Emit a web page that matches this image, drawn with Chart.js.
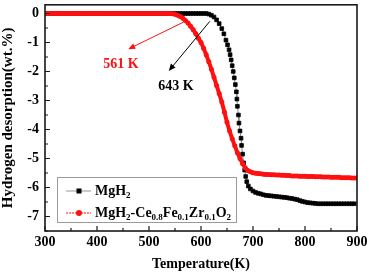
<!DOCTYPE html>
<html>
<head>
<meta charset="utf-8">
<script src="https://cdn.jsdelivr.net/npm/chart.js@4/dist/chart.umd.min.js"></script>
<style>
html,body{margin:0;padding:0;background:#fff;}
canvas{display:block;}
</style>
</head>
<body>
<canvas id="c" width="369" height="274"></canvas>
<script>
// ---- data ----
const mgh2Temp = [300,305,310,315,320,325,330,335,340,345,350,355,360,365,370,375,380,385,390,395,400,405,410,415,420,425,430,435,440,445,450,455,460,465,470,475,480,485,490,495,500,505,510,515,520,525,530,535,540,545,550,555,560,565,570,575,580,585,590,595,600,605,610,
615,620,625,630,635,640,644,648,651,654,656,658,660,662,664,666,668,669,670,672,673,675,677,678,680,682,684,686,688,691,695,
700,705,710,715,720,725,730,735,740,745,750,755,760,765,770,775,780,785,790,795,800,805,810,815,820,825,830,835,840,845,850,855,860,865,870,875,880,885,890,895,900];
const mgh2Val = [0,0,0,0,0,0,0,0,0,0,0,0,0,0,0,0,0,0,0,0,0,0,0,0,0,0,0,0,0,0,0,0,0,0,0,0,0,0,0,0,0,0,0,0,0,0,0,0,0,0,0,0,0,0,0,0,0,0,0,0,0,0,0,
-0.02,-0.06,-0.12,-0.22,-0.35,-0.52,-0.70,-0.92,-1.08,-1.25,-1.42,-1.60,-1.80,-2.00,-2.22,-2.45,-2.70,-2.95,-3.20,-3.50,-3.78,-4.05,-4.30,-4.55,-4.85,-5.15,-5.40,-5.62,-5.80,-5.95,-6.05,
-6.12,-6.17,-6.20,-6.22,-6.25,-6.27,-6.28,-6.29,-6.30,-6.31,-6.32,-6.33,-6.34,-6.35,-6.37,-6.38,-6.40,-6.42,-6.45,-6.48,-6.50,-6.52,-6.53,-6.54,-6.55,-6.56,-6.56,-6.56,-6.56,-6.56,-6.56,-6.56,-6.56,-6.56,-6.56,-6.56,-6.56,-6.56,-6.56,-6.56];

const compTemp = [300,305,310,315,320,325,330,335,340,345,350,355,360,365,370,375,380,385,390,395,400,405,410,415,420,425,430,435,440,445,450,455,460,465,470,475,480,485,490,495,500,505,510,515,520,525,530,535,540,
545,550,555,560,565,570,575,580,585,590,595,600,605,610,615,620,625,630,635,640,645,650,655,660,665,670,675,680,685,690,695,700,705,710,715,720,725,730,735,740,745,750,755,760,765,770,775,780,785,790,795,800,805,810,815,820,825,830,835,840,845,850,855,860,865,870,875,880,885,890,895,900];
const compVal = [0,0,0,0,0,0,0,0,0,0,0,0,0,0,0,0,0,0,0,0,0,0,0,0,0,0,0,0,0,0,0,0,0,0,0,0,0,0,0,0,0,0,0,0,0,0,0,0,0,
-0.01,-0.03,-0.06,-0.10,-0.16,-0.24,-0.33,-0.44,-0.56,-0.70,-0.85,-1.00,-1.20,-1.42,-1.66,-1.92,-2.20,-2.48,-2.76,-3.05,-3.40,-3.75,-4.05,-4.32,-4.56,-4.80,-5.00,-5.18,-5.32,-5.41,-5.46,-5.49,-5.51,-5.52,-5.53,-5.54,-5.55,-5.55,-5.56,-5.56,-5.57,-5.57,-5.58,-5.58,-5.59,-5.59,-5.60,-5.60,-5.60,-5.61,-5.61,-5.61,-5.62,-5.62,-5.62,-5.63,-5.63,-5.63,-5.64,-5.64,-5.64,-5.65,-5.65,-5.65,-5.65,-5.66,-5.66,-5.66,-5.66,-5.67,-5.67,-5.67];

const xTicks = [300,400,500,600,700,800,900];
const xMinor = [350,450,550,650,750,850];
const yTicks = [0,-1,-2,-3,-4,-5,-6,-7];
const yMinor = [-0.5,-1.5,-2.5,-3.5,-4.5,-5.5,-6.5,-7.5];

const seriesNames = ['MgH2', 'MgH2-Ce0.8Fe0.1Zr0.1O2'];
// annotation arrows: [fromX, fromY, toX, toY] in data units
const arrowRed = [566, -0.30, 460, -1.23];
const arrowBlack = [617, -0.27, 538, -1.98];
const labelRedText = '561 K';
const labelRedPos = [446, -1.74];
const labelBlackText = '643 K';
const labelBlackPos = [552, -2.53];

// ---- chart ----
const SERIF = '"Liberation Serif", "Times New Roman", serif';
const RED = '#ff1010';

function toXY(xs, ys){ return xs.map((x,i)=>({x:x, y:ys[i]})); }

const decorPlugin = {
  id: 'decor',
  afterDraw(chart){
    const ctx = chart.ctx;
    const xs = chart.scales.x, ys = chart.scales.y;
    const a = chart.chartArea;
    ctx.save();
    // frame
    ctx.strokeStyle = '#1a1a1a';
    ctx.lineWidth = 1.6;
    ctx.strokeRect(a.left, a.top, a.right - a.left, a.bottom - a.top);
    // inward ticks
    ctx.lineWidth = 1.2;
    ctx.beginPath();
    xTicks.forEach(v=>{ const p = xs.getPixelForValue(v); ctx.moveTo(p, a.bottom); ctx.lineTo(p, a.bottom-5); });
    xMinor.forEach(v=>{ const p = xs.getPixelForValue(v); ctx.moveTo(p, a.bottom); ctx.lineTo(p, a.bottom-3); });
    yTicks.forEach(v=>{ const p = ys.getPixelForValue(v); ctx.moveTo(a.left, p); ctx.lineTo(a.left+5, p); });
    yMinor.forEach(v=>{ const p = ys.getPixelForValue(v); ctx.moveTo(a.left, p); ctx.lineTo(a.left+3, p); });
    ctx.stroke();

    // arrows
    function arrow(arr, color){
      const x1 = xs.getPixelForValue(arr[0]), y1 = ys.getPixelForValue(arr[1]);
      const x2 = xs.getPixelForValue(arr[2]), y2 = ys.getPixelForValue(arr[3]);
      const ang = Math.atan2(y2-y1, x2-x1);
      const L = 7, W = 3;
      ctx.strokeStyle = color; ctx.fillStyle = color; ctx.lineWidth = 1;
      ctx.beginPath(); ctx.moveTo(x1,y1);
      ctx.lineTo(x2 - Math.cos(ang)*L*0.8, y2 - Math.sin(ang)*L*0.8); ctx.stroke();
      ctx.beginPath();
      ctx.moveTo(x2, y2);
      ctx.lineTo(x2 - Math.cos(ang)*L + Math.sin(ang)*W, y2 - Math.sin(ang)*L - Math.cos(ang)*W);
      ctx.lineTo(x2 - Math.cos(ang)*L - Math.sin(ang)*W, y2 - Math.sin(ang)*L + Math.cos(ang)*W);
      ctx.closePath(); ctx.fill();
    }
    arrow(arrowRed, RED);
    arrow(arrowBlack, '#000');
    ctx.font = 'bold 14px ' + SERIF;
    ctx.textAlign = 'center'; ctx.textBaseline = 'middle';
    ctx.fillStyle = RED;
    ctx.fillText(labelRedText, xs.getPixelForValue(labelRedPos[0]), ys.getPixelForValue(labelRedPos[1]));
    ctx.fillStyle = '#000';
    ctx.fillText(labelBlackText, xs.getPixelForValue(labelBlackPos[0]), ys.getPixelForValue(labelBlackPos[1]));

    // legend box
    const bx = 57, by = 177, bw = 179, bh = 45;
    ctx.fillStyle = '#fff';
    ctx.fillRect(bx, by, bw, bh);
    ctx.strokeStyle = '#9a9a9a'; ctx.lineWidth = 1;
    ctx.strokeRect(bx+0.5, by+0.5, bw, bh);
    function richText(parts, x, y){
      ctx.textAlign = 'left'; ctx.textBaseline = 'alphabetic';
      ctx.fillStyle = '#000';
      parts.forEach(p=>{
        if (p[1]) { ctx.font = 'bold 9px ' + SERIF; ctx.fillText(p[0], x, y+3); }
        else { ctx.font = 'bold 14px ' + SERIF; ctx.fillText(p[0], x, y); }
        x += ctx.measureText(p[0]).width;
      });
    }
    // entry 1
    let ly = 191;
    ctx.strokeStyle = '#8a9a9a'; ctx.lineWidth = 1;
    ctx.beginPath(); ctx.moveTo(66, ly); ctx.lineTo(91, ly); ctx.stroke();
    ctx.fillStyle = '#000'; ctx.fillRect(76.5, ly-2.5, 5, 5);
    richText([['MgH',0],['2',1]], 95, ly+4);
    // entry 2
    ly = 213;
    ctx.strokeStyle = RED; ctx.lineWidth = 1; ctx.setLineDash([2,1]);
    ctx.beginPath(); ctx.moveTo(66, ly); ctx.lineTo(91, ly); ctx.stroke();
    ctx.setLineDash([]);
    ctx.fillStyle = RED; ctx.beginPath(); ctx.arc(79, ly, 3, 0, Math.PI*2); ctx.fill();
    richText([['MgH',0],['2',1],['-Ce',0],['0.8',1],['Fe',0],['0.1',1],['Zr',0],['0.1',1],['O',0],['2',1]], 95, ly+4);
    ctx.restore();
  }
};

new Chart(document.getElementById('c'), {
  type: 'line',
  data: {
    datasets: [
      {
        label: seriesNames[1],
        data: toXY(compTemp, compVal),
        borderColor: RED,
        backgroundColor: RED,
        borderWidth: 4,
        pointStyle: 'circle',
        pointRadius: 2.5,
        pointBorderWidth: 0,
        pointBackgroundColor: RED,
        order: 0
      },
      {
        label: seriesNames[0],
        data: toXY(mgh2Temp, mgh2Val),
        borderColor: '#7f8c8c',
        backgroundColor: '#000',
        borderWidth: 1,
        pointStyle: 'rect',
        pointRadius: 2.6,
        pointBorderWidth: 0.8,
        pointBorderColor: '#000',
        pointBackgroundColor: '#000',
        order: 1
      }
    ]
  },
  options: {
    responsive: false,
    devicePixelRatio: 1,
    animation: false,
    layout: { padding: { top: 3, right: 12, left: 0, bottom: 0 } },
    plugins: { legend: { display: false }, tooltip: { enabled: false } },
    scales: {
      x: {
        type: 'linear', min: 300, max: 900,
        afterBuildTicks: s => { s.ticks = xTicks.map(v=>({value:v})); },
        afterFit: s => { s.height = 43; s.paddingLeft = 0; s.paddingRight = 0; },
        ticks: { padding: 3, color: '#000', font: { family: SERIF, size: 14, weight: 'bold' }, maxRotation: 0 },
        grid: { display: false, drawTicks: false },
        border: { display: false },
        title: { display: true, text: 'Temperature(K)', color: '#000', padding: { top: 0, bottom: 1 },
                 font: { family: SERIF, size: 14, weight: 'bold' } }
      },
      y: {
        type: 'linear', min: -7.5, max: 0.3,
        afterBuildTicks: s => { s.ticks = yTicks.map(v=>({value:v})); },
        afterFit: s => { s.width = 45; s.paddingTop = 0; s.paddingBottom = 0; },
        ticks: { padding: 6, color: '#000', font: { family: SERIF, size: 14, weight: 'bold' } },
        grid: { display: false, drawTicks: false },
        border: { display: false },
        title: { display: true, text: 'Hydrogen desorption(wt.%)', color: '#000', padding: { top: 0, bottom: 0 },
                 font: { family: SERIF, size: 15, weight: 'bold', lineHeight: 1.1 } }
      }
    }
  },
  plugins: [decorPlugin]
});
</script>
</body>
</html>
